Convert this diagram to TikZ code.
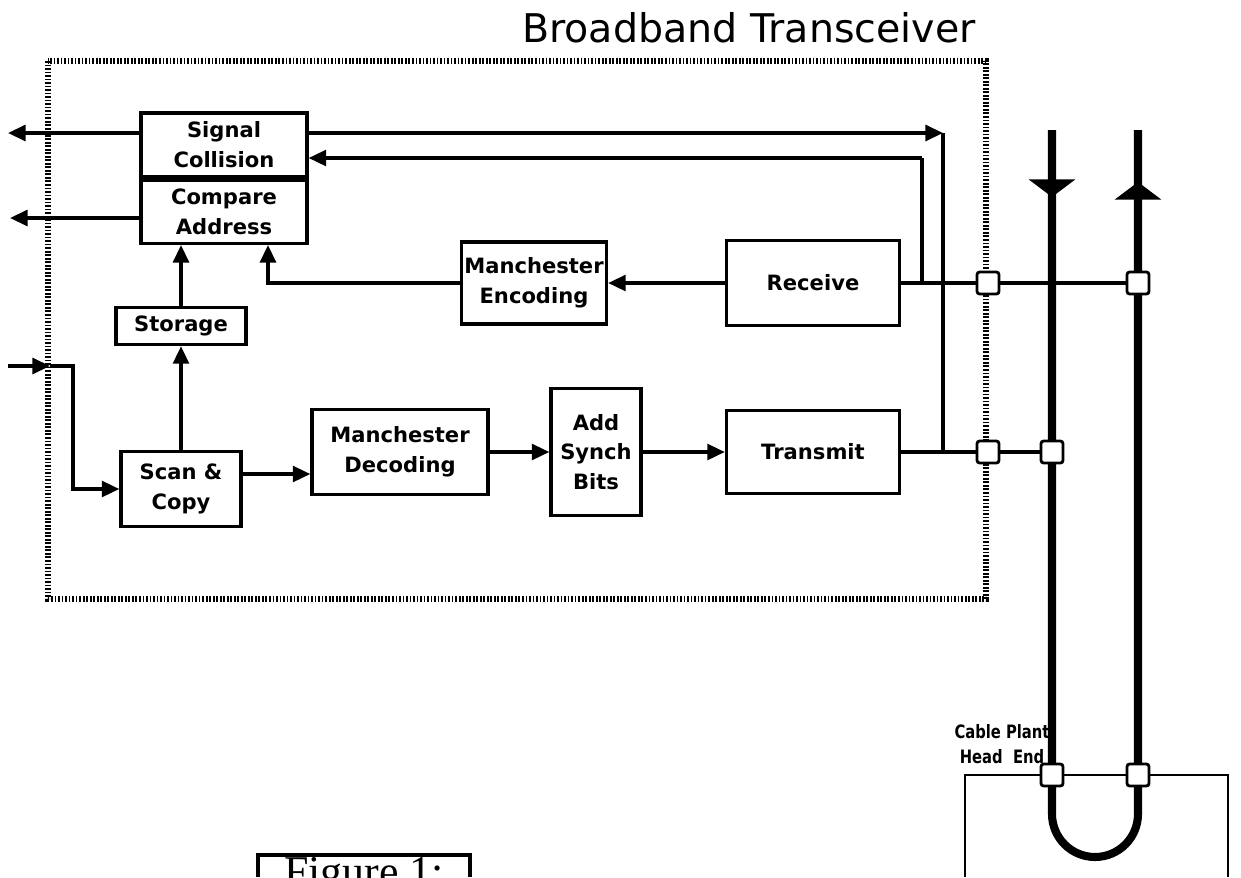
\documentclass[tikz,border=0pt]{standalone}
\usepackage{fontspec}
\setmainfont{DejaVu Sans}
\setsansfont{DejaVu Sans}
\newfontfamily\figfont{Liberation Serif}
\newfontfamily\cpfont[FakeStretch=0.8]{DejaVu Sans}
\usetikzlibrary{arrows.meta,positioning,calc}

\begin{document}
\begin{tikzpicture}[x=0.02cm,y=-0.02cm,
  blk/.style={draw,line width=1.9pt,inner sep=1pt,align=center,font=\sffamily\bfseries\fontsize{12}{17}\selectfont},
  tap/.style={draw,fill=white,line width=1.6pt,rounded corners=1.5pt,minimum size=0.44cm,inner sep=0pt},
  wire/.style={line width=1.9pt},
  a/.style={wire,-{Triangle[length=10pt,width=9pt]}},
  cable/.style={line width=4.6pt},
  ca/.style={cable,-{Triangle[length=10pt,width=26pt]}}]
  \useasboundingbox (0,0) rectangle (1241,877);
  \draw[line width=3.6pt,dash pattern=on 1pt off 1pt] (48,61) rectangle (986,599);
  \node[font=\sffamily\fontsize{22.5}{24}\selectfont,anchor=base] (title) at (749,42) {Broadband Transceiver};
  \node[blk,minimum width=3.32cm,minimum height=1.28cm] (sigcol) at (224,145) {Signal\\Collision};
  \node[blk,minimum width=3.32cm,minimum height=1.26cm,below=0pt of sigcol] (cmpadr) {Compare\\Address};
  \node[blk,minimum width=2.6cm,minimum height=0.74cm] (store) at (181,326) {Storage};
  \node[blk,minimum width=2.4cm,minimum height=1.5cm] (scan) at (181,489) {Scan \&\\Copy};
  \node[blk,minimum width=3.52cm,minimum height=1.7cm] (md) at (400,452) {Manchester\\Decoding};
  \node[blk,minimum width=1.8cm,minimum height=2.54cm] (asb) at (596,452) {Add\\Synch\\Bits};
  \node[blk,minimum width=3.46cm,minimum height=1.66cm] (txm) at (813,452) {Transmit};
  \node[blk,minimum width=3.46cm,minimum height=1.7cm] (rcv) at (813,283) {Receive};
  \node[blk,minimum width=2.9cm,minimum height=1.64cm] (menc) at (534,283) {Manchester\\Encoding};
  \coordinate (sigL) at (8,133); \coordinate (adrL) at (10,218);
  \coordinate (sigR) at (943,133); \coordinate (colR) at (922,158);
  \coordinate (inL) at (8,366); \coordinate (inM) at (50,366); \coordinate (inC) at (73,366);
  \coordinate (pR1) at (988,283); \coordinate (pR2) at (1138,283);
  \coordinate (pT1) at (988,452); \coordinate (pT2) at (1052,452);
  \coordinate (pH1) at (1052,775); \coordinate (pH2) at (1138,775);
  \coordinate (cabA) at (1052,130); \coordinate (cabB) at (1138,130);
  \coordinate (dnTip) at (1052,197); \coordinate (upTip) at (1138,182);
  \draw[a] (sigcol.west|-sigL) -- (sigL);
  \draw[a] (cmpadr.west|-adrL) -- (adrL);
  \draw[a] (sigcol.east|-sigR) -- (sigR);
  \draw[wire] (sigR) -- (sigR|-txm);
  \draw[wire] (colR|-rcv) -- (colR);
  \draw[a] (colR) -- (sigcol.east|-colR);
  \draw[a] (rcv) -- (menc);
  \draw[a] (menc.west) -| ([xshift=0.88cm]cmpadr.south);
  \draw[a] (store.north) -- (store.north|-cmpadr.south);
  \draw[a] (scan.north) -- (store.south);
  \draw[a] (inL) -- (inM);
  \draw[a] (inM) -- (inC) |- (scan.west);
  \draw[a] (scan.east|-0,474) -- (md.west|-0,474);
  \draw[a] (md) -- (asb);
  \draw[a] (asb) -- (txm);
  \draw[wire] (rcv.east) -- (pR2);
  \draw[wire] (txm.east) -- (pT2);
  \draw[cable] (cabA) -- (1052,814) arc[start angle=180,end angle=360,radius=0.86cm] -- (cabB);
  \draw[ca] (cabA) -- (dnTip);
  \draw[ca] (pR2) -- (upTip);
  \draw[line width=1.3pt] (965,877) |- (1228,775) -- (1228,877);
  \node[font=\cpfont\bfseries\fontsize{10.5}{14}\selectfont,align=center] (cplant) at (1002,744) {Cable Plant\\Head \ End};
  \foreach \p in {pR1,pR2,pT1,pT2,pH1,pH2}
    \node[tap] (tap\p) at (\p) {};
  \draw[wire] (258,877) |- (470,855) -- (470,877);
  \node[font=\figfont\fontsize{25}{28}\selectfont,anchor=base] (fig) at (364,886) {Figure 1:};
\end{tikzpicture}
\end{document}
